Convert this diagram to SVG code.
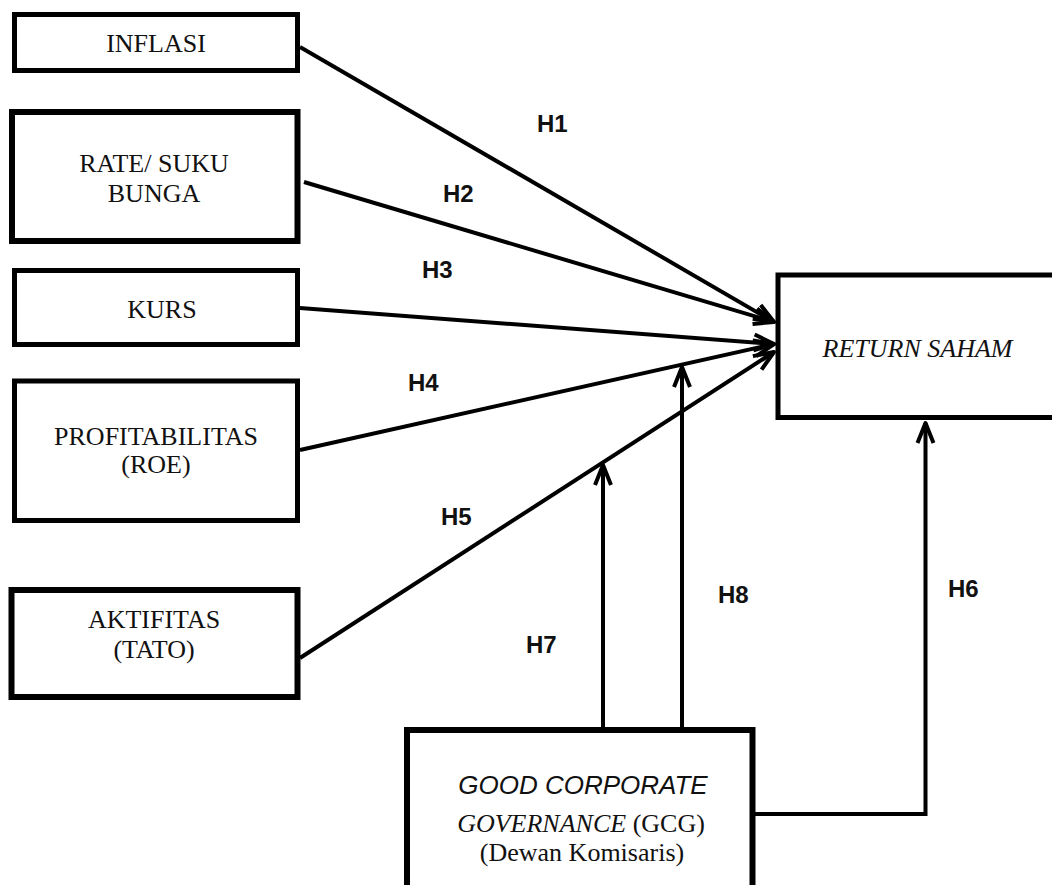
<svg xmlns="http://www.w3.org/2000/svg" width="1052" height="885" viewBox="0 0 1052 885">
<style>
.box{fill:#fff;stroke:#000;stroke-width:5}
.t{font-family:"Liberation Serif","Times New Roman",serif;font-size:26px;fill:#111;text-anchor:middle}
.it{font-style:italic}
.serif{font-family:"Liberation Serif","Times New Roman",serif}
.sans{font-family:"Liberation Sans",Arial,sans-serif}
.lbl{font-family:"Liberation Sans",Arial,sans-serif;font-size:24px;font-weight:bold;fill:#111}
.c{fill:none;stroke:#000;stroke-width:4}
</style>
<defs>
<marker id="arr" markerUnits="userSpaceOnUse" viewBox="-24 -12 26 24" refX="0" refY="0" markerWidth="26" markerHeight="24" orient="auto" overflow="visible">
<path d="M-20,-8 L0,0 L-20,8" fill="none" stroke="#000" stroke-width="4" stroke-linejoin="round"/>
</marker>
</defs>
<rect width="1052" height="885" fill="#fff"/>
<g id="connectors">
<line class="c" x1="300" y1="47" x2="774" y2="322" marker-end="url(#arr)"/>
<line class="c" x1="304" y1="182" x2="774" y2="322" marker-end="url(#arr)"/>
<line class="c" x1="300" y1="308" x2="774" y2="344" marker-end="url(#arr)"/>
<line class="c" x1="300" y1="450" x2="774" y2="344" marker-end="url(#arr)"/>
<line class="c" x1="300" y1="658" x2="774" y2="352" marker-end="url(#arr)"/>
<line class="c" x1="603" y1="728" x2="603" y2="465" marker-end="url(#arr)"/>
<line class="c" x1="682" y1="728" x2="682" y2="367" marker-end="url(#arr)"/>
<polyline class="c" points="755,814 925.5,814 925.5,423" marker-end="url(#arr)"/>
<text class="lbl" x="537" y="132">H1</text>
<text class="lbl" x="443" y="202">H2</text>
<text class="lbl" x="422" y="278">H3</text>
<text class="lbl" x="408" y="391">H4</text>
<text class="lbl" x="441" y="525">H5</text>
<text class="lbl" x="948" y="597">H6</text>
<text class="lbl" x="526" y="653">H7</text>
<text class="lbl" x="718" y="603">H8</text>
</g>
<g id="inflasi">
<rect class="box" x="14.5" y="14.5" width="283" height="56"/>
<text class="t" x="156" y="52">INFLASI</text>
</g>
<g id="suku-bunga">
<rect class="box" x="12" y="112" width="285.5" height="129" style="stroke-width:6"/>
<text class="t" x="154" y="172">RATE/ SUKU</text>
<text class="t" x="154" y="202">BUNGA</text>
</g>
<g id="kurs">
<rect class="box" x="14.5" y="270.5" width="283" height="74"/>
<text class="t" x="162" y="318">KURS</text>
</g>
<g id="profitabilitas">
<rect class="box" x="14.5" y="381" width="283" height="139.5"/>
<text class="t" x="156" y="445">PROFITABILITAS</text>
<text class="t" x="156" y="473">(ROE)</text>
</g>
<g id="aktifitas">
<rect class="box" x="11.5" y="590" width="286" height="107" style="stroke-width:6"/>
<text class="t" x="154" y="628">AKTIFITAS</text>
<text class="t" x="154" y="658">(TATO)</text>
</g>
<g id="return-saham">
<rect class="box" x="778" y="275" width="290" height="142.5"/>
<text class="t it" x="917.5" y="357">RETURN SAHAM</text>
</g>
<g id="gcg">
<rect class="box" x="407" y="730" width="345.5" height="180" style="stroke-width:6"/>
<text class="t it sans" x="583" y="794">GOOD CORPORATE</text>
<text class="t" x="581" y="832"><tspan class="it serif">GOVERNANCE</tspan> (GCG)</text>
<text class="t" x="582" y="861">(Dewan Komisaris)</text>
</g>
</svg>
